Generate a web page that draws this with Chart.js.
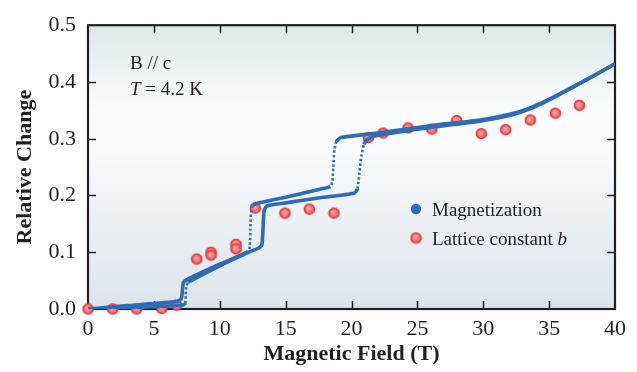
<!DOCTYPE html>
<html lang="en">
<head>
  <meta charset="UTF-8">
  <title>Relative Change vs Magnetic Field</title>
  <script src="https://cdn.jsdelivr.net/npm/chart.js"></script>
  <style>
    body { margin: 0; background: #fff; }
    #wrap { width: 637px; height: 372px; }
  </style>
</head>
<body>
  <div id="wrap"><canvas id="chart" width="637" height="372"></canvas></div>

  <script>
    // magnetization, up sweep
    const fieldUp = [0, 3, 6, 7.2, 7.38, 7.42, 7.46, 7.6, 8, 10, 12.3, 13.0, 13.2, 13.28, 13.35, 13.5, 13.8, 15, 17.6, 20.2, 20.45, 20.6, 20.75, 20.95, 21.2, 22, 26, 29.75, 32, 33.5, 35.3, 37.85, 40];
    const magUp   = [0, 0.002, 0.005, 0.007, 0.010, 0.025, 0.040, 0.047, 0.052, 0.076, 0.101, 0.108, 0.113, 0.140, 0.170, 0.180, 0.183, 0.187, 0.196, 0.204, 0.212, 0.240, 0.270, 0.290, 0.299, 0.306, 0.320, 0.331, 0.341, 0.352, 0.372, 0.404, 0.432];

    // magnetization, down sweep
    const fieldDown = [40, 37.85, 35.3, 33.5, 32, 29.75, 26, 22, 19.2, 18.85, 18.7, 18.62, 18.55, 18.4, 17.6, 15, 12.8, 12.5, 12.38, 12.32, 12.28, 12.15, 10, 7.5, 7.25, 7.17, 7.12, 7.0, 6.7, 3, 0];
    const magDown   = [0.432, 0.404, 0.373, 0.354, 0.343, 0.333, 0.323, 0.310, 0.302, 0.295, 0.280, 0.250, 0.225, 0.216, 0.211, 0.197, 0.186, 0.182, 0.170, 0.140, 0.110, 0.101, 0.079, 0.052, 0.047, 0.035, 0.022, 0.016, 0.013, 0.006, 0];

    // jumps recorded with sparse points
    const sparseUp = [7.42, 20.6];
    const sparseDown = [12.3, 18.6];

    // lattice constant b
    const latticeField = [0, 1.87, 3.7, 5.6, 6.72, 8.25, 9.34, 9.34, 11.23, 11.23, 12.7, 14.95, 16.8, 18.67, 21.28, 22.4, 24.3, 26.1, 27.98, 29.85, 31.7, 33.57, 35.47, 37.3];
    const latticeValue = [0, 0, 0, 0.001, 0.007, 0.088, 0.100, 0.095, 0.114, 0.106, 0.178, 0.169, 0.176, 0.169, 0.302, 0.310, 0.319, 0.317, 0.332, 0.309, 0.316, 0.333, 0.345, 0.359];

    const xTicks = [0, 5, 10, 15, 20, 25, 30, 35, 40];
    const yTicks = [0, 0.1, 0.2, 0.3, 0.4, 0.5];

    const blue = "#2e6cb4";
    const serif = "'Liberation Serif', 'DejaVu Serif', serif";

    function toPoints(xs, ys) {
      return xs.map((x, i) => ({ x: x, y: ys[i] }));
    }

    // red ball marker
    function makeBall(r) {
      const c = document.createElement("canvas");
      const s = Math.ceil(r * 2 + 3);
      c.width = s; c.height = s;
      const g = c.getContext("2d");
      const m = s / 2;
      const grad = g.createRadialGradient(m - 1, m - 1, 0.5, m, m, r);
      grad.addColorStop(0, "#f9a8a8");
      grad.addColorStop(1, "#f05858");
      g.beginPath();
      g.arc(m, m, r, 0, Math.PI * 2);
      g.fillStyle = grad;
      g.fill();
      g.lineWidth = 1.6;
      g.strokeStyle = "#e8363b";
      g.stroke();
      return c;
    }
    const ball = makeBall(5);

    function sparseSegment(list) {
      return ctx => {
        const dx = Math.abs(ctx.p1.x - ctx.p0.x);
        const dy = Math.abs(ctx.p1.y - ctx.p0.y);
        const fx = (ctx.p0.parsed.x + ctx.p1.parsed.x) / 2;
        return dy > 2 * dx && list.some(f => Math.abs(f - fx) < 0.3);
      };
    }

    function lineSet(label, xs, ys, sparse) {
      const isSparse = sparseSegment(sparse);
      return {
        label: label,
        type: "line",
        data: toPoints(xs, ys),
        borderColor: blue,
        borderWidth: 3.6,
        pointRadius: 0,
        tension: 0.2,
        fill: false,
        segment: {
          borderDash: ctx => isSparse(ctx) ? [2.4, 2.2] : undefined,
          borderWidth: ctx => isSparse(ctx) ? 2.6 : undefined
        }
      };
    }

    const decor = {
      id: "decor",
      beforeDatasetsDraw(chart) {
        const { ctx, chartArea: a, scales } = chart;
        ctx.save();
        const grad = ctx.createLinearGradient(0, a.top, 0, a.bottom);
        grad.addColorStop(0, "#dde8e9");
        grad.addColorStop(0.3, "#fbfdfd");
        grad.addColorStop(0.45, "#f8fafb");
        grad.addColorStop(1, "#dce4eb");
        ctx.fillStyle = grad;
        ctx.fillRect(a.left, a.top, a.right - a.left, a.bottom - a.top);

        // inward ticks on all four sides
        ctx.strokeStyle = "#231f20";
        ctx.lineWidth = 1.5;
        const tl = 8;
        ctx.beginPath();
        xTicks.slice(1, -1).forEach(v => {
          const x = Math.round(scales.x.getPixelForValue(v)) + 0.5;
          ctx.moveTo(x, a.bottom); ctx.lineTo(x, a.bottom - tl);
          ctx.moveTo(x, a.top); ctx.lineTo(x, a.top + tl);
        });
        yTicks.slice(1, -1).forEach(v => {
          const y = Math.round(scales.y.getPixelForValue(v)) + 0.5;
          ctx.moveTo(a.left, y); ctx.lineTo(a.left + tl, y);
          ctx.moveTo(a.right, y); ctx.lineTo(a.right - tl, y);
        });
        ctx.stroke();

        ctx.lineWidth = 2.2;
        ctx.strokeRect(a.left, a.top, a.right - a.left, a.bottom - a.top);
        ctx.restore();
      },
      afterDraw(chart) {
        const { ctx } = chart;
        ctx.save();
        ctx.fillStyle = "#231f20";
        ctx.textBaseline = "alphabetic";

        // annotation
        ctx.font = "19px " + serif;
        ctx.fillText("B // c", 130, 69);
        ctx.font = "italic 19px " + serif;
        ctx.fillText("T", 130, 95);
        let w = ctx.measureText("T").width;
        ctx.font = "19px " + serif;
        ctx.fillText(" = 4.2 K", 130 + w, 95);

        // legend
        ctx.beginPath();
        ctx.arc(416, 209, 5.2, 0, Math.PI * 2);
        ctx.fillStyle = blue;
        ctx.fill();
        ctx.drawImage(ball, 416 - ball.width / 2, 238 - ball.height / 2);

        ctx.fillStyle = "#231f20";
        ctx.font = "19px " + serif;
        ctx.fillText("Magnetization", 432, 216);
        ctx.fillText("Lattice constant ", 432, 245);
        w = ctx.measureText("Lattice constant ").width;
        ctx.font = "italic 19px " + serif;
        ctx.fillText("b", 432 + w, 245);
        ctx.restore();
      }
    };

    new Chart(document.getElementById("chart"), {
      type: "scatter",
      data: {
        datasets: [
          lineSet("Magnetization up", fieldUp, magUp, sparseUp),
          lineSet("Magnetization down", fieldDown, magDown, sparseDown),
          {
            label: "Lattice constant b",
            data: toPoints(latticeField, latticeValue),
            pointStyle: ball,
            pointRadius: 5,
            clip: false
          }
        ]
      },
      options: {
        responsive: false,
        animation: false,
        layout: { padding: { top: 13, right: 22, left: 0, bottom: 0 } },
        plugins: { legend: { display: false }, tooltip: { enabled: false } },
        scales: {
          x: {
            type: "linear",
            min: 0, max: 40,
            afterBuildTicks: s => { s.ticks = xTicks.map(v => ({ value: v })); },
            afterFit: s => { s.height = 63; },
            grid: { display: false, drawTicks: false },
            border: { display: false },
            ticks: { color: "#231f20", font: { family: serif, size: 22 }, padding: 7, maxRotation: 0 },
            title: {
              display: true, text: "Magnetic Field (T)", color: "#231f20",
              font: { family: serif, size: 22, weight: "bold" }, padding: { top: 0, bottom: 4 }
            }
          },
          y: {
            type: "linear",
            min: 0, max: 0.5,
            afterBuildTicks: s => { s.ticks = yTicks.map(v => ({ value: v })); },
            afterFit: s => { s.width = 88; },
            grid: { display: false, drawTicks: false },
            border: { display: false },
            ticks: { color: "#231f20", font: { family: serif, size: 22 }, padding: 12, callback: v => v.toFixed(1) },
            title: {
              display: true, text: "Relative Change", color: "#231f20",
              font: { family: serif, size: 22, weight: "bold" }, padding: { top: 12, bottom: 0 }
            }
          }
        }
      },
      plugins: [decor]
    });
  </script>
</body>
</html>
